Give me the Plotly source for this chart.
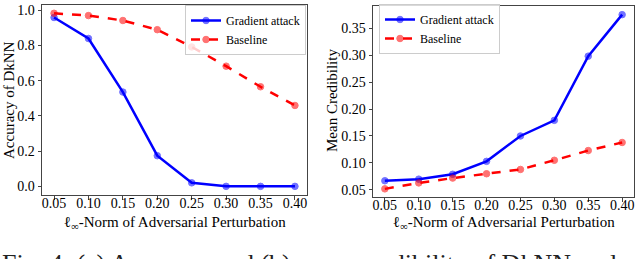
import plotly.graph_objects as go

eps = [0.05, 0.10, 0.15, 0.20, 0.25, 0.30, 0.35, 0.40]
acc_gradient = [0.958, 0.839, 0.535, 0.174, 0.02, 0.0, 0.0, 0.0]
acc_baseline = [0.982, 0.969, 0.941, 0.889, 0.791, 0.682, 0.565, 0.459]
cred_gradient = [0.067, 0.070, 0.079, 0.103, 0.150, 0.179, 0.298, 0.375]
cred_baseline = [0.052, 0.063, 0.072, 0.080, 0.088, 0.105, 0.123, 0.138]
x_ticks = [0.05, 0.10, 0.15, 0.20, 0.25, 0.30, 0.35, 0.40]
acc_ticks = [0.0, 0.2, 0.4, 0.6, 0.8, 1.0]
cred_ticks = [0.05, 0.10, 0.15, 0.20, 0.25, 0.30, 0.35]

x_title = "ℓ<sub>∞</sub>-Norm of Adversarial Perturbation"
y_title_left = "Accuracy of DkNN"
y_title_right = "Mean Credibility"
caption = "Fig. 4: (a) Accuracy and (b) mean credibility of DkNN under"

FONT = "Liberation Serif, Times New Roman, serif"
BLUE = "#0000ff"
RED = "#ff0000"

fig = go.Figure()

def add(x, y, color, dash, name, xa, ya):
    fig.add_trace(go.Scatter(
        x=x, y=y, name=name, mode="lines+markers",
        line=dict(color=color, width=2.5, dash=dash),
        marker=dict(symbol="circle", size=6.5, color=color, opacity=0.55,
                    line=dict(color=color, width=1)),
        xaxis=xa, yaxis=ya, showlegend=True,
        legend="legend" if xa == "x" else "legend2",
    ))

add(eps, acc_gradient, BLUE, "solid", "Gradient attack", "x", "y")
add(eps, acc_baseline, RED, "dash", "Baseline", "x", "y")
add(eps, cred_gradient, BLUE, "solid", "Gradient attack", "x2", "y2")
add(eps, cred_baseline, RED, "dash", "Baseline", "x2", "y2")

axis_common = dict(
    showgrid=False, zeroline=False, showline=True, mirror=True,
    linecolor="#444444", linewidth=1, ticks="outside", ticklen=3.5,
    tickcolor="#444444", tickfont=dict(family=FONT, size=14, color="black"),
    automargin=False,
)
x_extra = dict(ticklabelstandoff=-8)
TITLE_FONT = dict(family=FONT, size=15, color="black")

W, H = 640, 259
L1, R1, L2, R2 = 42, 307, 373, 634

annotations = [
    dict(text=x_title, xref="paper", yref="paper", x=(L1 + R1) / 2 / W, y=1 - 223 / H,
         xanchor="center", yanchor="middle", showarrow=False, font=TITLE_FONT),
    dict(text=x_title, xref="paper", yref="paper", x=(L2 + R2) / 2 / W, y=1 - 223 / H,
         xanchor="center", yanchor="middle", showarrow=False, font=TITLE_FONT),
    dict(text=y_title_left, xref="paper", yref="paper", x=9 / W, y=1 - 100 / H,
         xanchor="center", yanchor="middle", textangle=-90, showarrow=False, font=TITLE_FONT),
    dict(text=y_title_right, xref="paper", yref="paper", x=332 / W, y=1 - 101 / H,
         xanchor="center", yanchor="middle", textangle=-90, showarrow=False, font=TITLE_FONT),
    dict(text=caption, xref="paper", yref="paper", x=0, y=1 - 247 / H,
         xanchor="left", yanchor="top", showarrow=False,
         font=dict(family=FONT, size=26, color="#222222")),
]

fig.update_layout(
    width=W, height=H,
    margin=dict(l=0, r=0, t=0, b=0),
    paper_bgcolor="white", plot_bgcolor="white",
    font=dict(family=FONT, color="black"),
    xaxis=dict(domain=[L1 / W, R1 / W], range=[0.0325, 0.4175],
               tickvals=x_ticks, tickformat=".2f", anchor="y", **axis_common, **x_extra),
    yaxis=dict(domain=[1 - 195 / H, 1 - 5 / H], range=[-0.049, 1.029],
               tickvals=acc_ticks, tickformat=".1f", anchor="x", **axis_common),
    xaxis2=dict(domain=[L2 / W, R2 / W], range=[0.0325, 0.4175],
                tickvals=x_ticks, tickformat=".2f", anchor="y2", **axis_common, **x_extra),
    yaxis2=dict(domain=[1 - 197 / H, 1 - 6 / H], range=[0.0369, 0.391],
                tickvals=cred_ticks, tickformat=".2f", anchor="x2", **axis_common),
    legend=dict(x=185 / W, y=1 - 5 / H, xanchor="left", yanchor="top",
                bgcolor="rgba(255,255,255,0.8)", bordercolor="#cccccc", borderwidth=1,
                font=dict(family=FONT, size=12), itemwidth=30, tracegroupgap=0),
    legend2=dict(x=379 / W, y=1 - 4 / H, xanchor="left", yanchor="top",
                 bgcolor="rgba(255,255,255,0.8)", bordercolor="#cccccc", borderwidth=1,
                 font=dict(family=FONT, size=12), itemwidth=30, tracegroupgap=0),
    annotations=annotations,
)

fig.write_html("out.html", config={"displayModeBar": False},
               post_script="document.body.style.margin='0';document.body.style.overflow='hidden';")
